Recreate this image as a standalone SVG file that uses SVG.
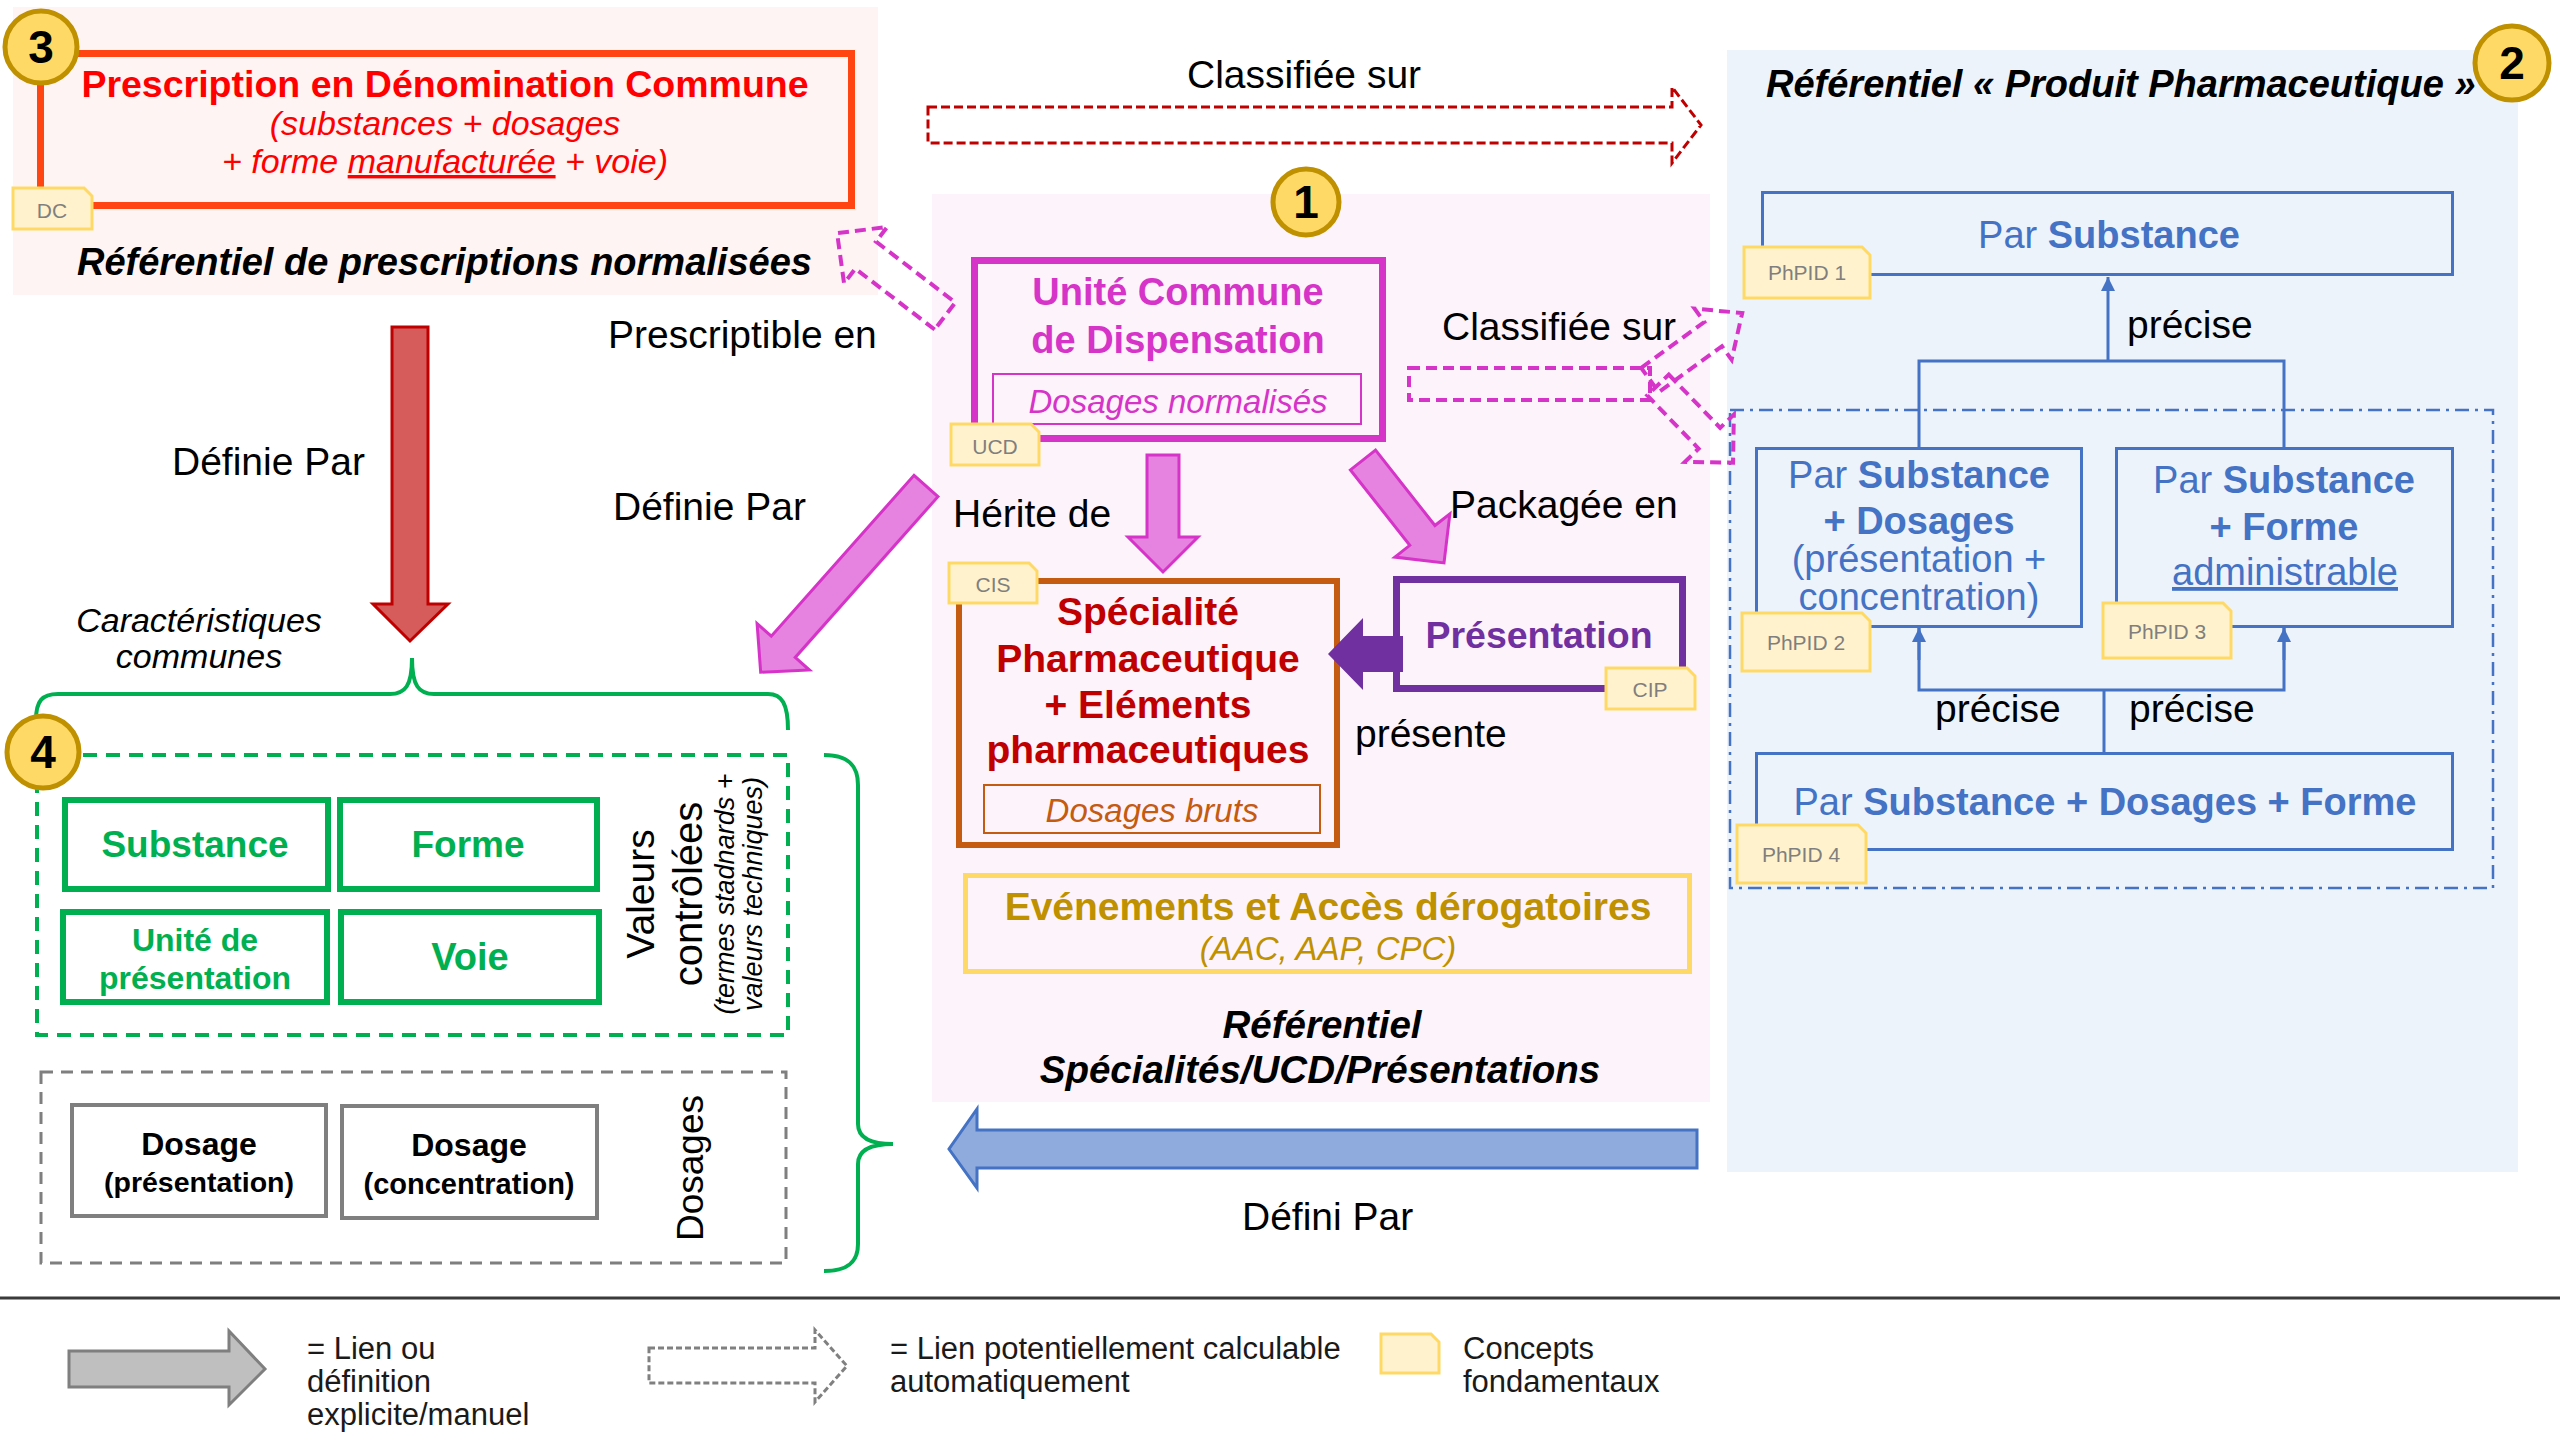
<svg xmlns="http://www.w3.org/2000/svg" width="2560" height="1440" viewBox="0 0 2560 1440">
<defs>
<style>
text{font-family:"Liberation Sans",Arial,sans-serif;}
.lbl{font-size:39px;fill:#000;}
.num{font-size:46px;font-weight:bold;fill:#000;text-anchor:middle;}
.circ{fill:#FFD966;stroke:#BF9000;stroke-width:5;}
.tag{fill:#FFF2CC;stroke:#FFD966;stroke-width:3;}
.tagt{font-size:21px;fill:#7F7F7F;text-anchor:middle;}
.bluebox{fill:none;stroke:#4472C4;stroke-width:3;}
.bluet{fill:#4472C4;font-size:38px;text-anchor:middle;}
.b{font-weight:bold;}
.it{font-style:italic;}
.mid{text-anchor:middle;}
.greenbox{fill:none;stroke:#00B050;stroke-width:6;}
.greent{fill:#00B050;font-weight:bold;text-anchor:middle;}
.graybox{fill:none;stroke:#7F7F7F;stroke-width:4;}
.blk{fill:#000;font-weight:bold;text-anchor:middle;}
.blue{fill:none;stroke:#4472C4;stroke-width:3;}
.magarrow{fill:#E683E0;stroke:#D633C8;stroke-width:3;}
.magdash{fill:none;stroke:#D633C8;stroke-width:4;stroke-dasharray:11 6;}
.leg{font-size:31px;fill:#1A1A1A;}
</style>
<marker id="tri" viewBox="0 0 10 10" refX="10" refY="5" markerWidth="14" markerHeight="16" markerUnits="userSpaceOnUse" orient="auto">
<path d="M0,0 L10,5 L0,10 Z" fill="#4472C4"/>
</marker>
</defs>
<rect width="2560" height="1440" fill="#FFFFFF"/>

<!-- backgrounds -->
<rect id="bg3" x="13" y="7" width="865" height="288" fill="#FEF4F4"/>
<rect id="bg1" x="932" y="194" width="778" height="908" fill="#FCF4FA"/>
<rect id="bg2" x="1727" y="50" width="791" height="1122" fill="#EDF3FB"/>

<!-- Region 3 -->
<g id="node-dc">
<rect x="40.5" y="53.5" width="811" height="152" fill="none" stroke="#FF4612" stroke-width="7"/>
<text x="445" y="97" class="mid b" font-size="37.5" fill="#FF0000">Prescription en Dénomination Commune</text>
<text x="445" y="135" class="mid it" font-size="34" fill="#FF0000">(substances + dosages</text>
<text x="445" y="173" class="mid it" font-size="34" fill="#FF0000">+ forme <tspan text-decoration="underline">manufacturée</tspan> + voie)</text>
<path class="tag" d="M13,188 H84 L92,196 V229 H13 Z"/>
<text x="52" y="218" class="tagt" font-size="19">DC</text>
</g>
<g id="title3">
<text x="77" y="275" class="b it" font-size="38" fill="#000">Référentiel de prescriptions normalisées</text>
</g>
<g id="badge3">
<circle cx="41" cy="47" r="36" class="circ"/>
<text x="41" y="63" class="num">3</text>
</g>

<!-- Region 1 -->
<g id="badge1">
<circle cx="1306" cy="202" r="33" class="circ"/>
<text x="1306" y="218" class="num">1</text>
</g>
<g id="node-ucd">
<rect x="974.5" y="260.5" width="408" height="178" fill="none" stroke="#D633C8" stroke-width="7"/>
<text x="1178" y="305" class="mid b" font-size="38" fill="#D633C8">Unité Commune</text>
<text x="1178" y="353" class="mid b" font-size="38" fill="#D633C8">de Dispensation</text>
<rect x="993" y="374" width="368" height="50" fill="none" stroke="#D633C8" stroke-width="2"/>
<text x="1178" y="413" class="mid it" font-size="33" fill="#D633C8">Dosages normalisés</text>
<path class="tag" d="M951,424 H1031 L1039,432 V465 H951 Z"/>
<text x="995" y="454" class="tagt">UCD</text>
</g>
<g id="node-cis">
<rect x="959" y="581" width="378" height="264" fill="none" stroke="#C55A11" stroke-width="6"/>
<text x="1148" y="625" class="mid b" font-size="39" fill="#C00000">Spécialité</text>
<text x="1148" y="672" class="mid b" font-size="39" fill="#C00000">Pharmaceutique</text>
<text x="1148" y="718" class="mid b" font-size="39" fill="#C00000">+ Eléments</text>
<text x="1148" y="763" class="mid b" font-size="39" fill="#C00000">pharmaceutiques</text>
<rect x="984" y="785" width="336" height="48" fill="none" stroke="#C55A11" stroke-width="2"/>
<text x="1152" y="822" class="mid it" font-size="33" fill="#C55A11">Dosages bruts</text>
<path class="tag" d="M949,563 H1029 L1037,571 V603 H949 Z"/>
<text x="993" y="592" class="tagt">CIS</text>
</g>
<g id="node-cip">
<rect x="1396.5" y="579.5" width="286" height="109" fill="none" stroke="#7030A0" stroke-width="7"/>
<text x="1539" y="648" class="mid b" font-size="37.5" fill="#7030A0">Présentation</text>
<path class="tag" d="M1606,668 H1687 L1695,676 V709 H1606 Z"/>
<text x="1650" y="697" class="tagt">CIP</text>
</g>
<g id="node-events">
<rect x="965.5" y="875.5" width="724" height="96" fill="none" stroke="#FFD966" stroke-width="5"/>
<text x="1328" y="920" class="mid b" font-size="39" fill="#BF9000">Evénements et Accès dérogatoires</text>
<text x="1328" y="960" class="mid it" font-size="33" fill="#BF9000">(AAC, AAP, CPC)</text>
</g>
<g id="title1">
<text x="1322" y="1038" class="mid b it" font-size="38.5" fill="#000">Référentiel</text>
<text x="1320" y="1083" class="mid b it" font-size="38.5" fill="#000">Spécialités/UCD/Présentations</text>
</g>

<!-- Region 2 -->
<g id="title2">
<text x="1766" y="97" class="b it" font-size="38" fill="#000">Référentiel « Produit Pharmaceutique »</text>
</g>
<g id="badge2">
<circle cx="2512" cy="63" r="37" class="circ"/>
<text x="2512" y="79" class="num">2</text>
</g>
<rect id="group-phpid23" x="1730" y="410" width="763" height="478" fill="none" stroke="#4472C4" stroke-width="2.5" stroke-dasharray="14 6 3 6"/>
<g id="node-phpid1">
<rect x="1762.5" y="192.5" width="690" height="82" class="bluebox"/>
<text x="2109" y="248" class="bluet">Par <tspan class="b">Substance</tspan></text>
<path class="tag" d="M1744,247 H1862 L1870,255 V298 H1744 Z"/>
<text x="1807" y="280" class="tagt" font-size="22">PhPID 1</text>
</g>
<g id="node-phpid2">
<rect x="1756.5" y="448.5" width="325" height="178" class="bluebox"/>
<text x="1919" y="488" class="bluet">Par <tspan class="b">Substance</tspan></text>
<text x="1919" y="534" class="bluet b">+ Dosages</text>
<text x="1919" y="572" class="bluet" font-size="25"><tspan x="1919" y="572">(présentation +</tspan><tspan x="1919" y="610">concentration)</tspan></text>
<path class="tag" d="M1742,613 H1862 L1870,621 V671 H1742 Z"/>
<text x="1806" y="650" class="tagt" font-size="22">PhPID 2</text>
</g>
<g id="node-phpid3">
<rect x="2116.5" y="448.5" width="336" height="178" class="bluebox"/>
<text x="2284" y="493" class="bluet">Par <tspan class="b">Substance</tspan></text>
<text x="2284" y="540" class="bluet b">+ Forme</text>
<text x="2285" y="585" class="bluet" font-size="40" text-decoration="underline">administrable</text>
<path class="tag" d="M2103,603 H2223 L2231,611 V658 H2103 Z"/>
<text x="2167" y="639" class="tagt" font-size="22">PhPID 3</text>
</g>
<g id="node-phpid4">
<rect x="1756.5" y="753.5" width="696" height="96" class="bluebox"/>
<text x="2105" y="815" class="bluet" font-size="38.5">Par <tspan class="b">Substance + Dosages + Forme</tspan></text>
<path class="tag" d="M1737,825 H1858 L1866,833 V883 H1737 Z"/>
<text x="1801" y="862" class="tagt" font-size="22">PhPID 4</text>
</g>

<!-- Region 4 -->
<g id="group-valeurs">
<rect x="37" y="755" width="751" height="280" fill="none" stroke="#00B050" stroke-width="4" stroke-dasharray="14 9"/>
<text transform="translate(654,894) rotate(-90)" class="mid" font-size="39" fill="#000">Valeurs</text>
<text transform="translate(702,894) rotate(-90)" class="mid" font-size="40" fill="#000">contrôlées</text>
<text transform="translate(734,894) rotate(-90)" class="mid it" font-size="27" fill="#000">(termes stadnards +</text>
<text transform="translate(762,894) rotate(-90)" class="mid it" font-size="27" fill="#000">valeurs techniques)</text>
</g>
<g id="node-substance">
<rect x="65" y="800" width="263" height="89" class="greenbox"/>
<text x="195" y="857" class="greent" font-size="37">Substance</text>
</g>
<g id="node-forme">
<rect x="340" y="800" width="257" height="89" class="greenbox"/>
<text x="468" y="857" class="greent" font-size="37">Forme</text>
</g>
<g id="node-unite">
<rect x="63" y="912" width="264" height="90" class="greenbox"/>
<text x="195" y="951" class="greent" font-size="32">Unité de</text>
<text x="195" y="989" class="greent" font-size="32">présentation</text>
</g>
<g id="node-voie">
<rect x="341" y="912" width="258" height="90" class="greenbox"/>
<text x="470" y="970" class="greent" font-size="38">Voie</text>
</g>
<g id="group-dosages">
<rect x="41" y="1072" width="745" height="191" fill="none" stroke="#7F7F7F" stroke-width="3" stroke-dasharray="12 8"/>
<text transform="translate(703,1168) rotate(-90)" class="mid" font-size="37" fill="#000">Dosages</text>
</g>
<g id="node-dosage-pres">
<rect x="72" y="1105" width="254" height="111" class="graybox"/>
<text x="199" y="1155" class="blk" font-size="32">Dosage</text>
<text x="199" y="1192" class="blk" font-size="28.5">(présentation)</text>
</g>
<g id="node-dosage-conc">
<rect x="342" y="1106" width="255" height="112" class="graybox"/>
<text x="469" y="1156" class="blk" font-size="32">Dosage</text>
<text x="469" y="1194" class="blk" font-size="29">(concentration)</text>
</g>
<g id="caract">
<text x="199" y="632" class="mid it" font-size="34" fill="#000">Caractéristiques</text>
<text x="199" y="668" class="mid it" font-size="34" fill="#000">communes</text>
</g>

<!-- connectors -->
<g id="connectors">
<path d="M36,720 C36,701 42,694 58,694 L390,694 C405,694 412,686 412,658 C412,686 419,694 434,694 L768,694 C782,694 788,704 788,730" fill="none" stroke="#00B050" stroke-width="4"/>
<path d="M824,755 C848,755 858,765 858,785 L858,1124 C858,1138 870,1144 893,1144 C870,1144 858,1150 858,1164 L858,1244 C858,1262 848,1271 824,1271" fill="none" stroke="#00B050" stroke-width="4"/>

<polygon points="928,107 1672,107 1672,87 1701,125 1672,163 1672,143 928,143" fill="none" stroke="#C00000" stroke-width="3" stroke-dasharray="9 4"/>
<text x="1187" y="88" class="lbl" font-size="37.5">Classifiée sur</text>

<polygon transform="translate(945,316) rotate(217.5)" points="0,-17 100,-17 100,-35.5 136,0 100,35.5 100,17 0,17" class="magdash"/>
<text x="608" y="348" class="lbl" font-size="39.8">Prescriptible en</text>

<polygon points="392,327 428,327 428,604 448,604 410,641 373,604 392,604" fill="#D65B5B" stroke="#C00000" stroke-width="3"/>
<text x="172" y="475" class="lbl">Définie Par</text>

<polygon transform="translate(926,486) rotate(131.6)" points="0,-16 215,-16 215,-35 249,0 215,35 215,16 0,16" class="magarrow"/>
<text x="613" y="520" class="lbl">Définie Par</text>

<polygon points="1147,455 1179,455 1179,537 1198,537 1163,572 1128,537 1147,537" class="magarrow"/>
<text x="953" y="527" class="lbl" font-size="40.5">Hérite de</text>

<polygon transform="translate(1363,460) rotate(51.8)" points="0,-16 96,-16 96,-35 131,0 96,35 96,16 0,16" class="magarrow"/>
<text x="1450" y="518" class="lbl" font-size="42">Packagée en</text>

<polygon points="1403,636 1403,672 1363,672 1363,690 1328,654 1363,618 1363,636" fill="#7030A0"/>
<text x="1355" y="747" class="lbl" font-size="40">présente</text>

<rect x="1409" y="368" width="241" height="32" class="magdash"/>
<polygon transform="translate(1650,380) rotate(-36)" points="0,-15 78,-15 78,-31.5 114,0 78,31.5 78,15 0,15" class="magdash"/>
<polygon transform="translate(1658,385) rotate(46)" points="0,-15 74,-15 74,-34 108,0 74,34 74,15 0,15" class="magdash"/>
<text x="1442" y="340" class="lbl" font-size="37.3">Classifiée sur</text>

<polygon points="1697,1130 1697,1168 977,1168 977,1188 949,1149 977,1109 977,1130" fill="#8FAADC" stroke="#4472C4" stroke-width="3"/>
<text x="1242" y="1230" class="lbl" font-size="38.3">Défini Par</text>

<line x1="2108" y1="361" x2="2108" y2="277" class="blue" marker-end="url(#tri)"/>
<polyline points="1919,447 1919,361 2284,361 2284,447" class="blue"/>
<text x="2127" y="338" class="lbl" font-size="39.5">précise</text>
<polyline points="1919,628 1919,690 2284,690 2284,628" class="blue"/>
<line x1="1919" y1="660" x2="1919" y2="628" class="blue" marker-end="url(#tri)"/>
<line x1="2284" y1="660" x2="2284" y2="628" class="blue" marker-end="url(#tri)"/>
<line x1="2104" y1="690" x2="2104" y2="752" class="blue"/>
<text x="1935" y="722" class="lbl" font-size="39.5">précise</text>
<text x="2129" y="722" class="lbl" font-size="39.5">précise</text>
</g>

<!-- legend -->
<line x1="0" y1="1298" x2="2560" y2="1298" stroke="#3A3A3A" stroke-width="3"/>
<g id="legend">
<polygon points="69,1351 229,1351 229,1331 265,1369 229,1405 229,1387 69,1387" fill="#BFBFBF" stroke="#7F7F7F" stroke-width="3"/>
<text x="307" y="1359" class="leg">= Lien ou</text>
<text x="307" y="1392" class="leg">définition</text>
<text x="307" y="1425" class="leg">explicite/manuel</text>
<polygon points="649,1348 815,1348 815,1330 847,1366 815,1402 815,1383 649,1383" fill="none" stroke="#808080" stroke-width="3" stroke-dasharray="6 3"/>
<text x="890" y="1359" class="leg">= Lien potentiellement calculable</text>
<text x="890" y="1392" class="leg">automatiquement</text>
<path class="tag" d="M1381,1334 H1431 L1439,1342 V1373 H1381 Z"/>
<text x="1463" y="1359" class="leg">Concepts</text>
<text x="1463" y="1392" class="leg">fondamentaux</text>
</g>

<!-- badge 4 on top -->
<g id="badge4">
<circle cx="43" cy="752" r="36" class="circ"/>
<text x="43" y="768" class="num">4</text>
</g>
</svg>
